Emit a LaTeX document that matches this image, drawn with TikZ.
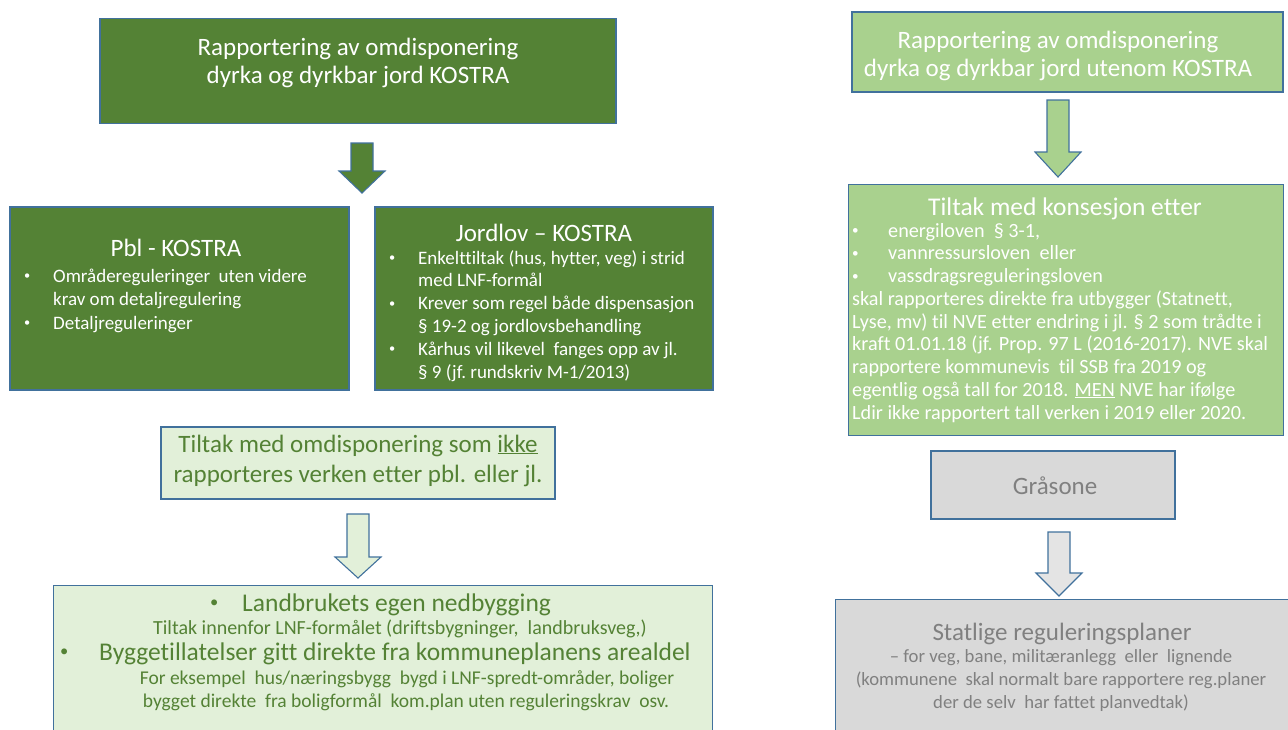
\documentclass[tikz,border=0pt]{standalone}
\usepackage{graphicx}
\usepackage{fontspec}
\setmainfont{Carlito}[Ligatures=NoCommon]
\definecolor{dkgreen}{RGB}{84,130,53}
\definecolor{mdgreen}{RGB}{169,209,142}
\definecolor{ltgreen}{RGB}{226,240,217}
\definecolor{ltgray}{RGB}{217,217,217}
\definecolor{edgeblue}{RGB}{65,113,156}
\definecolor{graytext}{RGB}{128,128,128}
\newcommand\dotb{\raisebox{0.12em}{\scalebox{0.65}{•}}}
\newcommand\bul{\makebox[29pt][l]{\dotb}}
\newcommand\ind{\hspace*{29pt}}
\newcommand\bulw{\makebox[36pt][l]{\dotb}}
% first-line-baseline text blocks
\newcommand\lblock[4]{\parbox[t]{#1}{\fontsize{#2}{#3}\selectfont\raggedright #4}}
\newcommand\cblock[4]{\parbox[t]{#1}{\fontsize{#2}{#3}\selectfont\centering #4}}
\begin{document}
\begin{tikzpicture}[x=1pt,y=-1pt,
  box/.style={draw=edgeblue, line width=1.3pt, rectangle, inner sep=0pt},
  dkbox/.style={box, fill=dkgreen},
  mdbox/.style={box, fill=mdgreen},
  ltbox/.style={box, fill=ltgreen},
  grbox/.style={box, fill=ltgray},
  barrow/.style={draw=edgeblue, line width=1.1pt, line join=miter},
  ltxt/.style={inner sep=0pt, anchor=base west},
  ctxt/.style={inner sep=0pt, anchor=base},
]
\useasboundingbox (0,0) rectangle (1288,729);
\clip (0,0) rectangle (1288,729);

% ---------- left column ----------
\node[dkbox, minimum width=516pt, minimum height=105pt] (A) at (358,71) {};
\node[ctxt, text=white] (At) at (358,55) {\cblock{500pt}{25}{28}{Rapportering av omdisponering\\dyrka og dyrkbar jord KOSTRA}};

\node[dkbox, minimum width=339pt, minimum height=183pt] (B) at (179.5,298.5) {};
\node[ctxt, text=white, font=\fontsize{25}{28}\selectfont] (Bt) at (176,256) {Pbl - KOSTRA};
\node[ltxt, text=white] (Bl) at (24,282)
 {\lblock{320pt}{19}{23.5}{\bul Områdereguleringer\ \ uten videre\\ \ind krav om detaljregulering\\ \bul Detaljreguleringer}};

\node[dkbox, minimum width=338pt, minimum height=183pt] (C) at (544,298.5) {};
\node[ctxt, text=white, font=\fontsize{25}{28}\selectfont] (Ct) at (544,241) {Jordlov – KOSTRA};
\node[ltxt, text=white] (Cl) at (389,264)
 {\lblock{330pt}{19}{22.8}{\bul Enkelttiltak\ (hus,\ hytter,\ veg)\ i strid\\ \ind med LNF-formål\\ \bul Krever som regel både dispensasjon\\ \ind § 19-2 og jordlovsbehandling\\ \bul Kårhus vil likevel\ \ fanges opp av jl.\\ \ind § 9 (jf.\ rundskriv\ M-1/2013)}};

\node[ltbox, minimum width=394pt, minimum height=72pt] (D) at (358,463) {};
\node[ctxt, text=dkgreen] (Dt) at (358,452) {\cblock{390pt}{25}{30}{Tiltak med omdisponering som \underline{ikke}\\rapporteres verken etter pbl. eller jl.}};

\node[ltbox, minimum width=659pt, minimum height=160pt, anchor=north west] (E) at (53,585) {};
\node[ltxt, text=dkgreen, font=\fontsize{25.5}{28}\selectfont] (E1) at (210,611) {\makebox[32pt][l]{\dotb}Landbrukets egen nedbygging};
\node[ctxt, text=dkgreen, font=\fontsize{20}{23}\selectfont] (E2) at (400,634) {Tiltak innenfor LNF-formålet (driftsbygninger,\ \ landbruksveg,)};
\node[ltxt, text=dkgreen, font=\fontsize{25.5}{28}\selectfont] (E3) at (60,660) {\makebox[39pt][l]{\dotb}Byggetillatelser gitt direkte fra kommuneplanens arealdel};
\node[ctxt, text=dkgreen, font=\fontsize{19.5}{23}\selectfont] (E4) at (407,684) {For eksempel\ \ hus/næringsbygg\ \ bygd i LNF-spredt-områder,\ boliger};
\node[ctxt, text=dkgreen, font=\fontsize{19.5}{23}\selectfont] (E5) at (406,707) {bygget direkte\ \ fra boligformål\ \ kom.plan uten reguleringskrav\ \ osv.};

% ---------- right column ----------
\node[mdbox, minimum width=431pt, minimum height=80pt] (F) at (1067.5,52) {};
\node[ctxt, text=white] (Ft) at (1058,48) {\cblock{430pt}{25}{28}{Rapportering av omdisponering\\dyrka og dyrkbar jord utenom KOSTRA}};

\node[mdbox, minimum width=435pt, minimum height=251pt, anchor=north west] (G) at (848,184) {};
\node[ctxt, text=white, font=\fontsize{25.5}{28}\selectfont] (Gt) at (1065,215) {Tiltak med konsesjon etter};
\node[ltxt, text=white] (Gl) at (852,237)
 {\lblock{440pt}{20.2}{22.75}{\bulw energiloven\ \ § 3-1,\\ \bulw vannressursloven\ \ eller\\ \bulw vassdragsreguleringsloven\\
 skal rapporteres direkte fra utbygger (Statnett,\\
 Lyse, mv) til NVE etter endring i jl. § 2 som trådte i\\
 kraft 01.01.18 (jf. Prop. 97 L (2016-2017). NVE skal\\
 rapportere kommunevis\ \ til SSB fra 2019 og\\
 egentlig også tall for 2018. \underline{MEN} NVE har ifølge\\
 Ldir ikke rapportert tall verken i 2019 eller 2020.}};

\node[grbox, minimum width=244pt, minimum height=68pt] (H) at (1053,485) {};
\node[ctxt, text=graytext, font=\fontsize{25}{28}\selectfont] (Ht) at (1055,494) {Gråsone};

\node[grbox, minimum width=470pt, minimum height=150pt, anchor=north west] (I) at (835,599) {};
\node[ctxt, text=graytext, font=\fontsize{25}{28}\selectfont] (It) at (1062,640) {Statlige reguleringsplaner};
\node[ctxt, text=graytext] (Il) at (1061,662)
 {\cblock{450pt}{18.7}{23}{– for veg, bane, militæranlegg\ \ eller\ \ lignende\\ (kommunene\ \ skal normalt bare rapportere reg.planer\\ der de selv\ \ har fattet planvedtak)}};

% ---------- block arrows ----------
\newcommand\blockarrow[5]{% x, ytop, yhead, ytip, fill
  \draw[barrow, fill=#5] (#1-11,#2) -- (#1+11,#2) -- (#1+11,#3) -- (#1+23,#3) -- (#1,#4) -- (#1-23,#3) -- (#1-11,#3) -- cycle;}
\blockarrow{362}{143}{171}{193}{dkgreen}
\blockarrow{1058}{100}{152}{177}{mdgreen}
\blockarrow{358}{514}{557}{578}{ltgreen}
\blockarrow{1059}{532}{573}{596}{ltgray!70}
\end{tikzpicture}
\end{document}
